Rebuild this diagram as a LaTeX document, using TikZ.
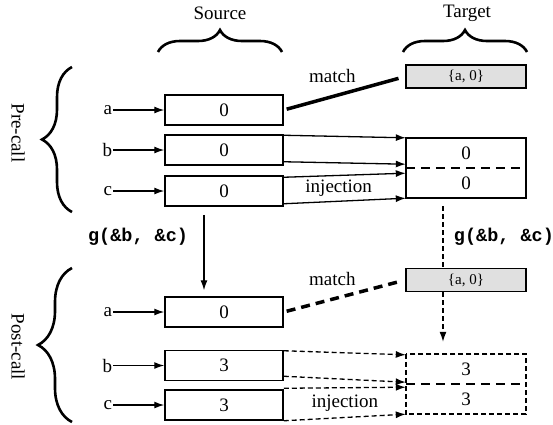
\documentclass[tikz,border=0pt]{standalone}
\usepackage{fontspec}
\setmainfont{Liberation Serif}
\setmonofont{Liberation Mono}
\usetikzlibrary{positioning,arrows.meta,decorations.pathreplacing}

\definecolor{matchgray}{gray}{0.88}

\tikzset{
  cell/.style={draw,line width=1.5pt,minimum width=118pt,minimum height=30pt,inner sep=0pt},
  half/.style={minimum width=120pt,minimum height=30pt,inner sep=0pt},
  matchbox/.style={draw,fill=matchgray,line width=1.5pt,minimum width=120pt,minimum height=23pt,
    inner sep=0pt,font=\fontsize{15}{17}\selectfont},
  varname/.style={inner sep=1pt},
  bigbrace/.style={decorate,decoration={brace,amplitude=#1},line width=2.6pt},
  ptr/.style={->,line width=1.3pt},
  dptr/.style={->,line width=1.3pt,dash pattern=on 5pt off 3pt},
  callarg/.style={font=\fontsize{18.5}{21}\selectfont\ttfamily\bfseries},
}

\begin{document}
\begin{tikzpicture}[x=1pt,y=-1pt,font=\fontsize{19}{22}\selectfont,
  >={Latex[length=10pt,width=7pt]}]
  \useasboundingbox (0,0) rectangle (553,424);

  % column headings
  \draw[bigbrace=22pt] (158,52) -- (282,52);
  \node (srcHead) at (220,13) {Source};
  \draw[bigbrace=22pt] (403,52) -- (527,52);
  \node (tgtHead) at (467,13) {Target};

  % phase braces
  \draw[bigbrace=30pt] (72,212) -- (72,67);
  \node[rotate=-90] (preHead) at (18,133) {Pre-call};
  \draw[bigbrace=34pt] (72,422) -- (72,268);
  \node[rotate=-90] (postHead) at (18,347) {Post-call};

  % before the call
  \node[cell] (preA) at (224,110) {0};
  \node[cell] (preB) at (224,150) {0};
  \node[cell] (preC) at (224,191) {0};
  \node[varname,left=51pt of preA] (preNameA) {a};
  \node[varname,left=51pt of preB] (preNameB) {b};
  \node[varname,left=51pt of preC] (preNameC) {c};
  \draw[ptr] (preNameA) -- (preA);
  \draw[ptr] (preNameB) -- (preB);
  \draw[ptr] (preNameC) -- (preC);

  \node[matchbox] (preM) at (466,76.5) {\{a, 0\}};
  \node[half] (preT1) at (466,153) {0};
  \node[half] (preT2) at (466,183) {0};
  \draw[line width=1.5pt] (preT1.north west) rectangle (preT2.south east);
  \draw[line width=1.5pt,dash pattern=on 9pt off 6pt] (preT1.south west) -- (preT1.south east);

  \draw[line width=3.5pt,shorten <=3pt,shorten >=7pt] (preA.east) -- (preM.west)
    node[pos=0.4,yshift=21pt] (preMatch) {match};
  \draw[ptr] ([yshift=-1pt]preB.north east) -- (preT1.north west);
  \draw[ptr] ([yshift=4pt]preB.south east) -- ([yshift=4pt]preT1.south west);
  \draw[ptr] ([yshift=-2pt]preC.north east) -- ([yshift=-5pt]preT1.south west);
  \draw[ptr] ([yshift=3pt]preC.south east) -- (preT2.south west)
    node[pos=0.45,above=1pt] (preInj) {injection};

  % after the call
  \node[cell] (postA) at (224,312) {0};
  \node[cell] (postB) at (224,365.5) {3};
  \node[cell] (postC) at (224,405) {3};
  \node[varname,left=51pt of postA] (postNameA) {a};
  \node[varname,left=51pt of postB] (postNameB) {b};
  \node[varname,left=51pt of postC] (postNameC) {c};
  \draw[ptr] (postNameA) -- (postA);
  \draw[ptr] (postNameB) -- (postB);
  \draw[ptr] (postNameC) -- (postC);

  \node[matchbox] (postM) at (466,280) {\{a, 0\}};
  \node[half] (postT1) at (466,369) {3};
  \node[half] (postT2) at (466,399) {3};
  \draw[line width=1.5pt,dash pattern=on 5pt off 3pt] (postT1.north west) rectangle (postT2.south east);
  \draw[line width=1.5pt,dash pattern=on 9pt off 6pt] (postT1.south west) -- (postT1.south east);

  \draw[line width=3.5pt,dash pattern=on 9pt off 6pt,shorten <=3pt,shorten >=7pt] (postA.east) -- (postM.west)
    node[pos=0.4,yshift=20pt] (postMatch) {match};
  \draw[dptr] ([yshift=-1pt]postB.north east) -- ([yshift=-1pt]postT1.north west);
  \draw[dptr] ([yshift=5pt]postB.south east) -- ([yshift=2pt]postT1.south west);
  \draw[dptr] ([yshift=1pt]postC.north east) -- ([yshift=-3pt]postT1.south west);
  \draw[dptr] (postC.south east) -- (postT2.south west)
    node[pos=0.5,above=2pt] (postInj) {injection};

  % the call g(&b, &c)
  \draw[ptr,shorten <=8pt,shorten >=6pt] ([xshift=-20pt]preC.south) -- ([xshift=-20pt]postA.north)
    node[pos=0.34,left=12pt,callarg] (srcCall) {g(\&b, \&c)};
  \draw[line width=1.3pt,dash pattern=on 5pt off 3pt,shorten <=8pt] ([xshift=-23pt]preT2.south) -- ([xshift=-23pt]postM.north)
    node[pos=0.56,right=7pt,callarg] (tgtCall) {g(\&b, \&c)};
  \draw[dptr,shorten >=12pt] ([xshift=-23pt]postM.south) -- ([xshift=-23pt]postT1.north);
\end{tikzpicture}
\end{document}
